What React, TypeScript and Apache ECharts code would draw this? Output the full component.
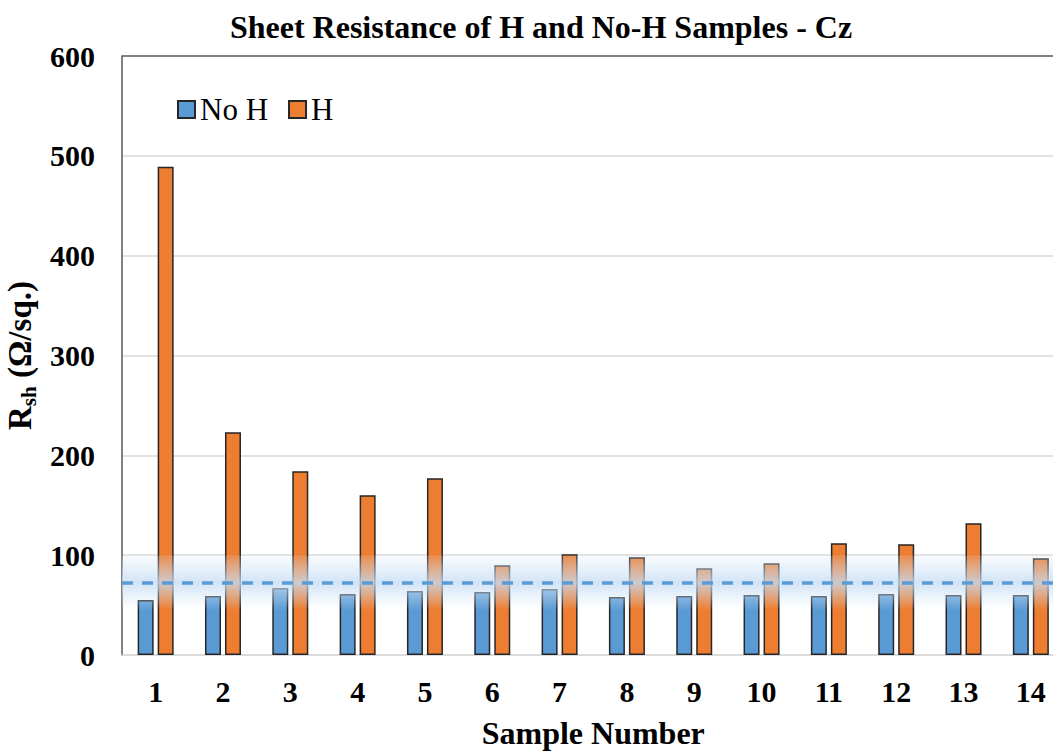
import React, { useEffect, useRef } from "react";
import * as echarts from "echarts";

const categories = ["1", "2", "3", "4", "5", "6", "7", "8", "9", "10", "11", "12", "13", "14"];
const noHValues = [55, 59, 67, 61, 64, 63, 66, 58, 59, 60, 59, 61, 60, 60];
const hValues = [489, 223, 184, 160, 177, 90, 101, 98, 87, 92, 112, 111, 132, 97];
const referenceLevel = 72;
const bandRange = [45, 100];
const yTicks = { min: 0, max: 600, interval: 100 };

const SERIF = "'Liberation Serif', 'Times New Roman', serif";

export default function App() {
  const ref = useRef<HTMLDivElement>(null);
  useEffect(() => {
    if (!ref.current) return;
    const chart = echarts.init(ref.current, null, { renderer: "svg" });
    const gridColor = "#d9d9d9";
    const dark = "#595959";
    chart.setOption({
      animation: false,
      backgroundColor: "#ffffff",
      textStyle: { fontFamily: SERIF },
      graphic: [
        {
          type: "text",
          x: 541,
          y: 11,
          style: {
            text: "Sheet Resistance of H and No-H Samples - Cz",
            textAlign: "center",
            fontFamily: SERIF,
            fontWeight: "bold",
            fontSize: 32,
            fill: "#000",
          },
        },
      ],
      legend: {
        left: 172,
        top: 89,
        icon: "rect",
        itemWidth: 17,
        itemHeight: 17,
        itemGap: 20,
        textStyle: { fontFamily: SERIF, fontSize: 31, color: "#000" },
        data: ["No H", "H"],
      },
      grid: { left: 122, right: 5.5, top: 56, bottom: 97, containLabel: false, outerBoundsMode: "none" },
      xAxis: {
        type: "category",
        data: categories,
        axisLine: { show: true, lineStyle: { color: gridColor, width: 1.5 } },
        axisTick: { show: false },
        axisLabel: {
          margin: 21,
          fontFamily: SERIF,
          fontWeight: "bold",
          fontSize: 30,
          color: "#000",
        },
        name: "Sample Number",
        nameLocation: "middle",
        nameGap: 62,
        nameTextStyle: { fontFamily: SERIF, fontWeight: "bold", fontSize: 32, color: "#000" },
      },
      yAxis: {
        type: "value",
        min: yTicks.min,
        max: yTicks.max,
        interval: yTicks.interval,
        axisLine: { show: true, lineStyle: { color: dark, width: 1.5 } },
        axisTick: { show: false },
        splitLine: {
          show: true,
          lineStyle: {
            color: [gridColor, gridColor, gridColor, gridColor, gridColor, gridColor, dark],
            width: 1.5,
          },
        },
        axisLabel: {
          margin: 27,
          fontFamily: SERIF,
          fontWeight: "bold",
          fontSize: 30,
          color: "#000",
        },
        name: "{a|R}{b|sh}{a| (Ω/sq.)}",
        nameLocation: "middle",
        nameGap: 80,
        nameTextStyle: {
          rich: {
            a: { fontFamily: SERIF, fontWeight: "bold", fontSize: 33, color: "#000", lineHeight: 38 },
            b: {
              fontFamily: SERIF,
              fontWeight: "bold",
              fontSize: 21,
              color: "#000",
              lineHeight: 38,
              padding: [18, 0, 0, 0],
            },
          },
        },
      },
      series: [
        {
          name: "No H",
          type: "bar",
          data: noHValues,
          barWidth: 16,
          barGap: "25%",
          itemStyle: { color: "#5B9BD5", borderColor: "#262626", borderWidth: 1.5 },
        },
        {
          name: "H",
          type: "bar",
          data: hValues,
          barWidth: 16,
          barGap: "25%",
          itemStyle: { color: "#ED7D31", borderColor: "#262626", borderWidth: 1.5 },
          markArea: {
            silent: true,
            z: 4,
            itemStyle: {
              color: {
                type: "linear",
                x: 0,
                y: 0,
                x2: 0,
                y2: 1,
                colorStops: [
                  { offset: 0, color: "rgba(214,230,246,0.15)" },
                  { offset: 0.5, color: "rgba(196,220,244,0.8)" },
                  { offset: 1, color: "rgba(214,230,246,0)" },
                ],
              },
            },
            data: [[{ yAxis: bandRange[1] }, { yAxis: bandRange[0] }]],
          },
          markLine: {
            silent: true,
            symbol: "none",
            z: 5,
            label: { show: false },
            lineStyle: { color: "#5B9BD5", width: 3.5, type: [11, 9] },
            data: [{ yAxis: referenceLevel }],
          },
        },
      ],
    });
    return () => chart.dispose();
  }, []);
  return (
    <div
      style={{
        position: "absolute",
        left: 0,
        top: 0,
        width: 1053,
        height: 752,
        overflow: "hidden",
        background: "#fff",
      }}
    >
      <div ref={ref} style={{ width: 1070, height: 752 }} />
    </div>
  );
}
